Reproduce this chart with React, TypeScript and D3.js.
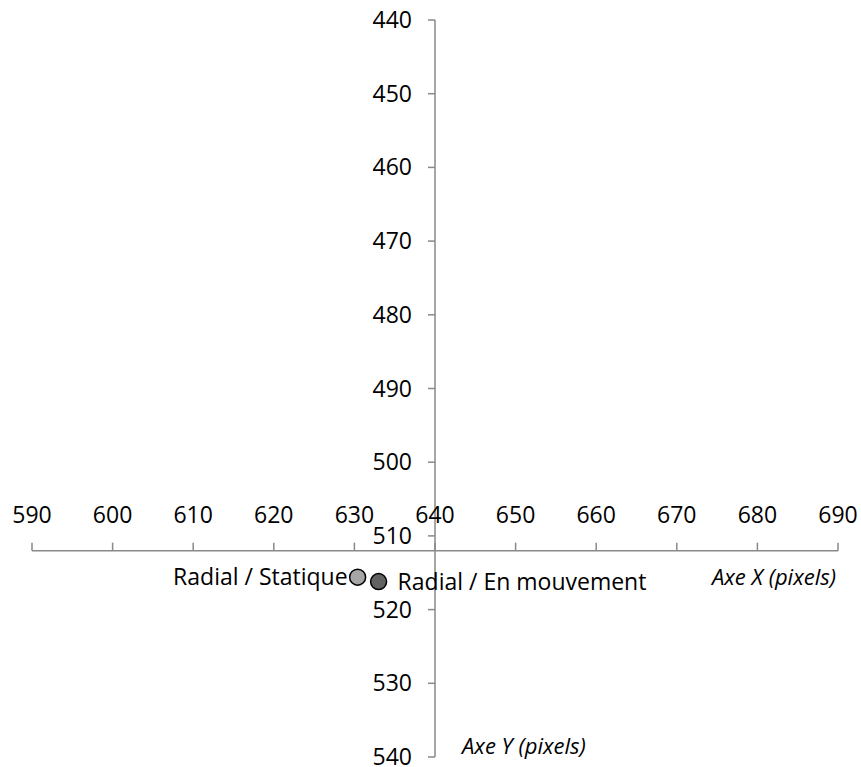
import React from "react";
import * as d3 from "d3";

const xTicks = [590, 600, 610, 620, 630, 640, 650, 660, 670, 680, 690];
const yTicks = [440, 450, 460, 470, 480, 490, 500, 510, 520, 530, 540];
const seriesNames = ["Radial / Statique", "Radial / En mouvement"];
const seriesX = [630.4, 633.0];
const seriesY = [515.6, 516.2];
const seriesColors = ["#a6a6a6", "#626262"];
const labelSides = ["left", "right"];
const xCross = 512;
const yCross = 640;

const W = 861;
const H = 767;
const FONT = "'Open Sans', sans-serif";
const AXIS = "#898989";
const FS = 23;

export default function App() {
  const x = d3.scaleLinear().domain([590, 690]).range([32, 838]);
  const y = d3.scaleLinear().domain([440, 540]).range([20, 757]);
  const ax = x(yCross);
  const ay = y(xCross);
  return (
    <svg width={W} height={H} style={{ position: "absolute", left: 0, top: 0, background: "#fff" }}>
      {/* Y axis */}
      <line x1={ax} x2={ax} y1={y(440)} y2={y(540)} stroke={AXIS} strokeWidth={1.5} />
      {yTicks.map((t) => (
        <g key={"y" + t}>
          <line x1={ax - 7} x2={ax} y1={y(t)} y2={y(t)} stroke={AXIS} strokeWidth={1.5} />
          <text x={ax - 23} y={y(t)} dy="0.35em" textAnchor="end" fontFamily={FONT} fontSize={FS} fill="#000">
            {t}
          </text>
        </g>
      ))}
      {/* X axis */}
      <line x1={x(590)} x2={x(690)} y1={ay} y2={ay} stroke={AXIS} strokeWidth={1.5} />
      {xTicks.map((t) => (
        <g key={"x" + t}>
          <line x1={x(t)} x2={x(t)} y1={ay - 8} y2={ay} stroke={AXIS} strokeWidth={1.5} />
          <text x={x(t)} y={ay - 28} textAnchor="middle" fontFamily={FONT} fontSize={FS} fill="#000">
            {t}
          </text>
        </g>
      ))}
      {/* axis titles */}
      <text x={836} y={585} textAnchor="end" fontFamily={FONT} fontStyle="italic" fontSize={22} fill="#000">
        Axe X (pixels)
      </text>
      <text x={462} y={754} textAnchor="start" fontFamily={FONT} fontStyle="italic" fontSize={22} fill="#000">
        Axe Y (pixels)
      </text>
      {/* points */}
      {seriesNames.map((name, i) => {
        const px = x(seriesX[i]);
        const py = y(seriesY[i]);
        const left = labelSides[i] === "left";
        return (
          <g key={name}>
            <circle cx={px} cy={py} r={8} fill={seriesColors[i]} stroke="#000" strokeWidth={1.5} />
            <text
              x={left ? px - 10 : px + 19}
              y={py}
              dy="0.35em"
              textAnchor={left ? "end" : "start"}
              fontFamily={FONT}
              fontSize={FS}
              fill="#000"
            >
              {name}
            </text>
          </g>
        );
      })}
    </svg>
  );
}
